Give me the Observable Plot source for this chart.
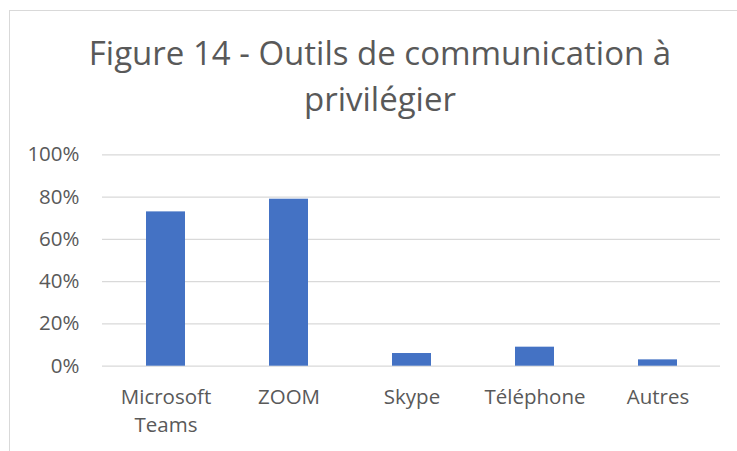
<!DOCTYPE html>
<html>
<head>
<meta charset="utf-8">
<script src="https://cdn.jsdelivr.net/npm/d3@7"></script>
<script src="https://cdn.jsdelivr.net/npm/@observablehq/plot@0.6"></script>
<style>
  html, body { margin: 0; padding: 0; background: #fff; }
  body { width: 737px; height: 451px; overflow: hidden; position: relative; font-family: "Open Sans", sans-serif; }
  #frame { position: absolute; left: 9px; top: 10px; width: 742px; height: 460px; border: 1px solid #d9d9d9; box-sizing: border-box; }
  #title { position: absolute; left: 0; top: 30px; width: 760px; text-align: center; font-size: 33px; line-height: 46px; color: #595959; }
  #chart { position: absolute; left: 0; top: 130px; }
</style>
</head>
<body>
<div id="frame"></div>
<div id="title">Figure 14 - Outils de communication à<br>privilégier</div>
<div id="chart"></div>
<script>
const categories = ["Microsoft Teams", "ZOOM", "Skype", "Téléphone", "Autres"];
const values = [0.73, 0.79, 0.06, 0.09, 0.03];
const yTicks = [0, 0.2, 0.4, 0.6, 0.8, 1];

const data = categories.map((c, i) => ({cat: c, val: values[i]}));

const chart = Plot.plot({
  width: 737,
  height: 321,
  marginLeft: 102,
  marginRight: 17,
  marginTop: 24.3,
  marginBottom: 85.3,
  style: {fontFamily: "Open Sans", fontSize: "20.5px", color: "#595959", background: "transparent"},
  x: {domain: categories, paddingInner: 0.685, paddingOuter: 0.3425},
  y: {domain: [0, 1], ticks: yTicks},
  marks: [
    Plot.gridY(yTicks, {stroke: "#d9d9d9", strokeOpacity: 1, strokeWidth: 1.3}),
    Plot.barY(data, {x: "cat", y: "val", fill: "#4472C4"}),
    Plot.axisY(yTicks, {tickSize: 0, tickPadding: 23, tickFormat: d3.format(".0%"), label: null}),
    Plot.axisX({tickSize: 0, tickPadding: 17, tickFormat: d => d.replace(" ", "\n"), lineHeight: 1.4, label: null})
  ]
});
document.getElementById("chart").appendChild(chart);
</script>
</body>
</html>
